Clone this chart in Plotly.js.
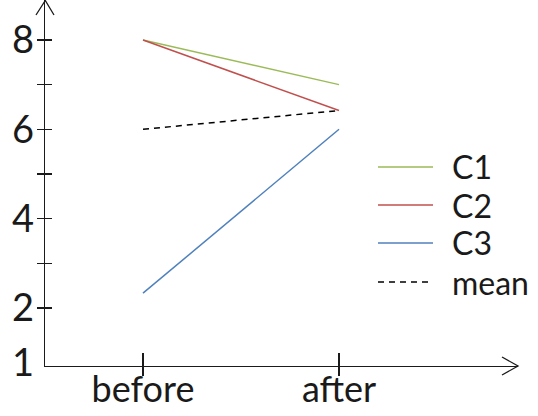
<!DOCTYPE html>
<html>
<head>
<meta charset="utf-8">
<script src="https://cdn.plot.ly/plotly-3.0.1.min.js"></script>
<style>html,body{margin:0;padding:0;background:#fff;}#chart{width:538px;height:416px;}</style>
</head>
<body>
<div id="chart"></div>
<script>
// ---- data ----
var categories = ["before", "after"];
var seriesNames = ["C1", "C2", "C3", "mean"];
var c1 = [8, 7];
var c2 = [8, 6.42];
var c3 = [2.33, 6];
var meanVals = [6, 6.42];
var yTickVals = [2, 3, 4, 5, 6, 7, 8];
var yLabelVals = [0.78, 2, 4, 6, 8];
var yLabelText = ["1", "2", "4", "6", "8"];

// ---- styling ----
var colors = ["#9bbb59", "#c0504d", "#4f81bd", "#000000"];
var dashes = ["solid", "solid", "solid", "6px,5px"];
var font = "Lato, 'Open Sans', sans-serif";
var ink = "#1a1a1a";
var W = 538, H = 416, L = 45, R = 20, T = 0, B = 50;
var pw = W - L - R, ph = H - T - B;
function px(x) { return (x - L) / pw; }
function py(y) { return (H - B - y) / ph; }

var allSeries = [c1, c2, c3, meanVals];
var traces = allSeries.map(function (vals, i) {
  return {
    x: categories, y: vals, type: "scatter", mode: "lines", name: seriesNames[i],
    line: {color: colors[i], width: 1.5, dash: dashes[i]},
    showlegend: false, hoverinfo: "skip", xaxis: "x", yaxis: "y"
  };
});
// helper traces so overlay axes render
traces.push({x: categories, y: [null, null], type: "scatter", mode: "lines", xaxis: "x2", yaxis: "y2", showlegend: false, hoverinfo: "skip"});
traces.push({x: categories, y: [null, null], type: "scatter", mode: "lines", xaxis: "x", yaxis: "y3", showlegend: false, hoverinfo: "skip"});

var yRange = [0.7, 8.895];
var xRange = [-0.5, 1.913];

var shapes = [];
var annotations = [];
// arrowheads
shapes.push({type: "path", xref: "paper", yref: "paper",
  path: "M" + px(36) + "," + py(15) + " L" + px(45.3) + "," + py(0.5) + " L" + px(54) + "," + py(15),
  line: {color: ink, width: 1.3}});
shapes.push({type: "path", xref: "paper", yref: "paper",
  path: "M" + px(502) + "," + py(357) + " L" + px(518) + "," + py(366) + " L" + px(502) + "," + py(375),
  line: {color: ink, width: 1.3}});
// legend
var legY = [167, 205, 243, 282];
seriesNames.forEach(function (n, i) {
  shapes.push({type: "line", xref: "paper", yref: "paper",
    x0: px(378), x1: px(433), y0: py(legY[i]), y1: py(legY[i]),
    line: {color: colors[i], width: 1.5, dash: dashes[i]}});
  annotations.push({xref: "paper", yref: "paper", x: px(450), y: py(legY[i]),
    xanchor: "left", yanchor: "middle", text: n, showarrow: false,
    font: {family: font, size: 32, color: ink}});
});

var layout = {
  width: W, height: H,
  margin: {l: L, r: R, t: T, b: B, pad: 0},
  paper_bgcolor: "#fff", plot_bgcolor: "rgba(0,0,0,0)",
  showlegend: false,
  font: {family: font, color: ink},
  xaxis: {type: "category", range: xRange, showline: true, linecolor: ink, linewidth: 1.3,
    ticks: "outside", ticklen: 9, tickwidth: 1.3, tickcolor: ink,
    showgrid: false, zeroline: false, fixedrange: true,
    tickfont: {family: font, size: 36, color: ink}, ticklabelstandoff: -18},
  xaxis2: {type: "category", overlaying: "x", range: xRange, showline: false,
    ticks: "inside", ticklen: 13, tickwidth: 1.3, tickcolor: ink,
    showticklabels: false, showgrid: false, zeroline: false},
  yaxis: {range: yRange, showline: true, linecolor: ink, linewidth: 1.3,
    tickmode: "array", tickvals: yTickVals, ticks: "outside", ticklen: 7, tickwidth: 1.3, tickcolor: ink,
    showticklabels: false, showgrid: false, zeroline: false},
  yaxis2: {range: yRange, overlaying: "y", anchor: "x2",
    tickmode: "array", tickvals: yTickVals, ticks: "inside", ticklen: 7, tickwidth: 1.3, tickcolor: ink,
    showticklabels: false, showgrid: false, zeroline: false, showline: false},
  yaxis3: {range: yRange, overlaying: "y", tickmode: "array", tickvals: yLabelVals, ticktext: yLabelText,
    ticks: "", showgrid: false, zeroline: false, showline: false, ticklabelstandoff: 10,
    tickfont: {family: font, size: 38, color: ink}},
  shapes: shapes,
  annotations: annotations
};

Plotly.newPlot("chart", traces, layout, {staticPlot: true, displayModeBar: false});
</script>
</body>
</html>
